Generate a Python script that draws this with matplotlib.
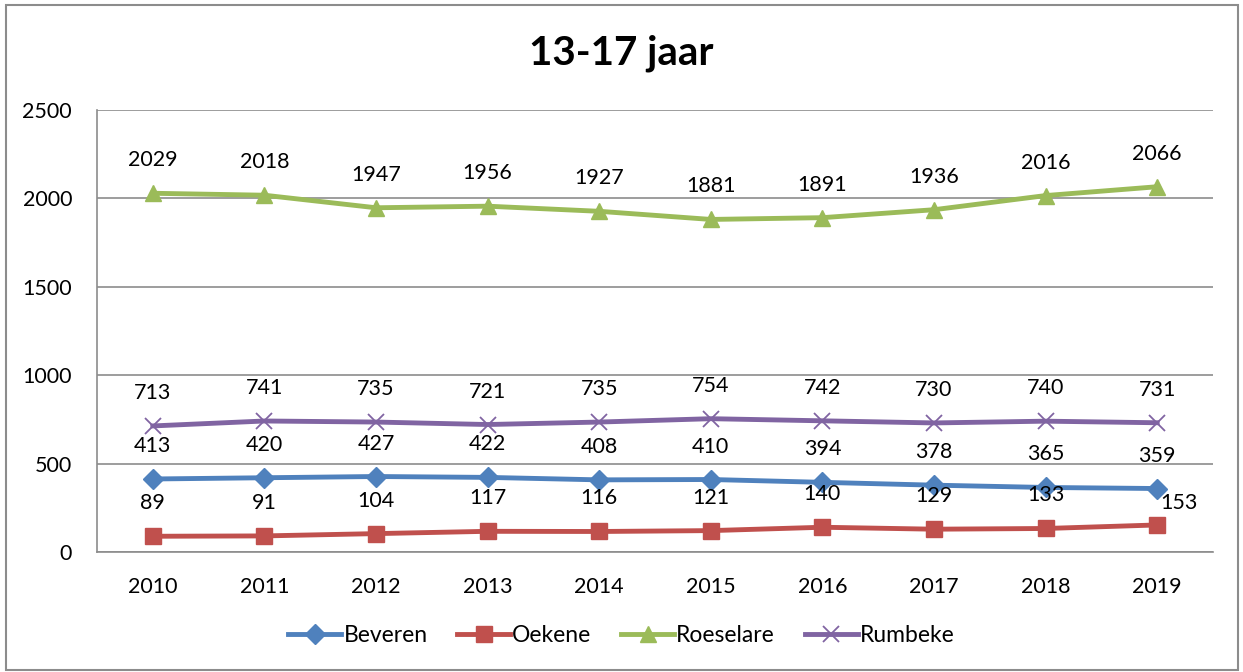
import matplotlib
matplotlib.use("Agg")
import matplotlib.pyplot as plt
from matplotlib.patches import Rectangle

plt.rcParams['font.family'] = ['Lato', 'DejaVu Sans']

years = ["2010", "2011", "2012", "2013", "2014", "2015", "2016", "2017", "2018", "2019"]
beveren = [413, 420, 427, 422, 408, 410, 394, 378, 365, 359]
oekene = [89, 91, 104, 117, 116, 121, 140, 129, 133, 153]
roeselare = [2029, 2018, 1947, 1956, 1927, 1881, 1891, 1936, 2016, 2066]
rumbeke = [713, 741, 735, 721, 735, 754, 742, 730, 740, 731]
yticks = [0, 500, 1000, 1500, 2000, 2500]

W, H = 1243, 672
fig = plt.figure(figsize=(W / 100, H / 100), dpi=100)
fig.patch.set_facecolor('white')
fig.patches.append(Rectangle((6 / W, 2 / H), 1232 / W, 665 / H, transform=fig.transFigure,
                             fill=False, edgecolor='#8c8c8c', linewidth=1.5))

ax = fig.add_axes([97 / W, 1 - 552 / H, (1213 - 97) / W, (552 - 110) / H])
x = list(range(len(years)))

series = [
    ("Beveren", beveren, '#4F81BD', 'D', 10, {}),
    ("Oekene", oekene, '#C0504D', 's', 12, {}),
    ("Roeselare", roeselare, '#9BBB59', '^', 12, {}),
    ("Rumbeke", rumbeke, '#8064A2', 'x', 12, {'markeredgewidth': 1.3}),
]
for name, vals, col, mk, ms, extra in series:
    ax.plot(x, vals, color=col, linewidth=3.5, marker=mk, markersize=ms,
            markerfacecolor=col, markeredgecolor=col, label=name, zorder=3, **extra)
    for i, v in enumerate(vals):
        if name == "Oekene" and i == len(vals) - 1:
            off = (22, 22)
        else:
            off = (0, 33)
        ax.annotate(str(v), (i, v), xytext=off, textcoords='offset pixels',
                    ha='center', va='center', fontsize=15.5, color='black')

ax.set_xlim(-0.5, 9.5)
ax.set_ylim(0, 2500)
ax.set_yticks(yticks)
ax.set_yticklabels([str(t) for t in yticks], fontsize=15.5)
ax.set_xticks(x)
ax.set_xticklabels(years, fontsize=15.5)
ax.tick_params(axis='both', length=0)
ax.tick_params(axis='y', pad=18)
ax.tick_params(axis='x', pad=18)
ax.grid(axis='y', color='#8c8c8c', linewidth=1.2)
ax.set_axisbelow(True)
for s in ['top', 'right']:
    ax.spines[s].set_visible(False)
for s in ['left', 'bottom']:
    ax.spines[s].set_color('#8c8c8c')
    ax.spines[s].set_linewidth(1.2)

fig.text(0.5, 1 - 53 / H, "13-17 jaar", ha='center', va='center', fontsize=29, fontweight='bold')

leg = fig.legend(loc='center', bbox_to_anchor=(0.5, 1 - 636 / H), ncol=4, frameon=False,
                 fontsize=16.5, handlelength=2.3, handletextpad=0.1, columnspacing=1.3)

fig.savefig("out.png", dpi=100)
